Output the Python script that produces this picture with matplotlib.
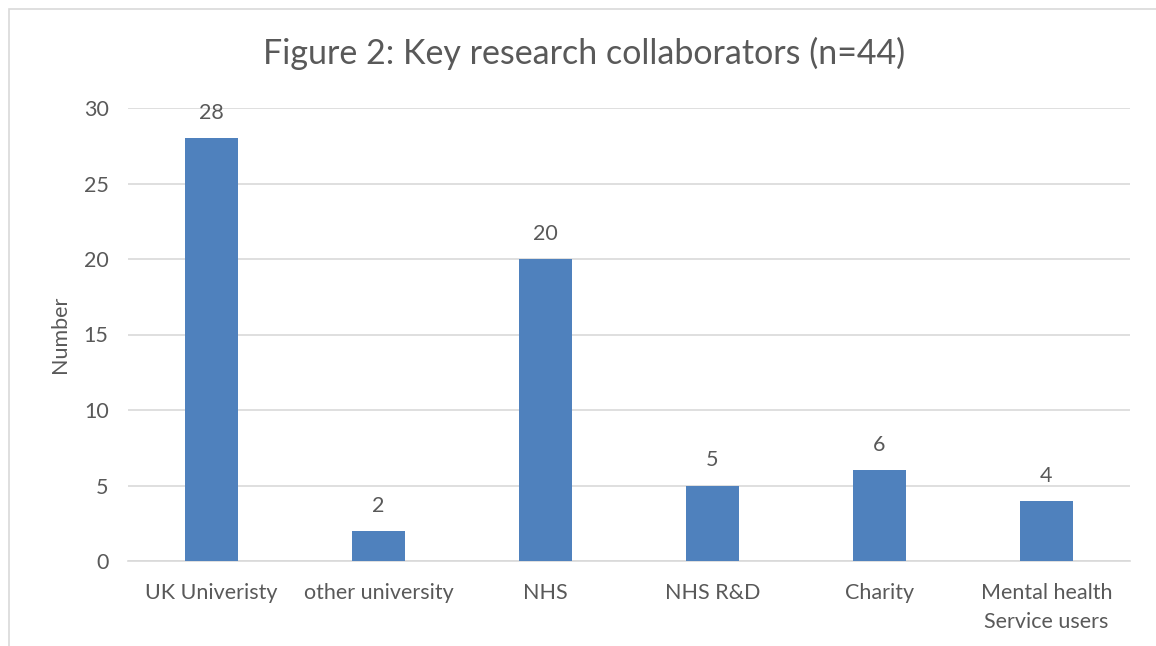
import matplotlib.pyplot as plt
from matplotlib.patches import Rectangle

categories = ["UK Univeristy", "other university", "NHS", "NHS R&D", "Charity",
              "Mental health\nService users"]
counts = [28, 2, 20, 5, 6, 4]
y_ticks = [0, 5, 10, 15, 20, 25, 30]

W, H = 1156, 646
fig = plt.figure(figsize=(W / 100, H / 100), dpi=100)
plt.rcParams['font.family'] = ['Lato', 'DejaVu Sans']
text_col = '#595959'
fs = 15.5

# outer chart frame (only left/top edges visible in the crop)
fig.patches.append(Rectangle((8.5 / W, -0.1), 1.2, 1 - 9.5 / H + 0.1,
                             transform=fig.transFigure, fill=False,
                             edgecolor='#D9D9D9', linewidth=1.2))

ax = fig.add_axes([128 / W, 1 - 561 / H, (1130 - 128) / W, (561 - 108) / H])
x = range(len(categories))
bars = ax.bar(x, counts, width=0.32, color='#4F81BD', zorder=3)
for b, v in zip(bars, counts):
    ax.text(b.get_x() + b.get_width() / 2, v + 1.0, str(v), ha='center',
            va='bottom', fontsize=fs, color=text_col)

ax.set_xlim(-0.5, len(categories) - 0.5)
ax.set_ylim(0, 30)
ax.set_yticks(y_ticks)
ax.set_xticks(list(x))
ax.set_xticklabels(categories, fontsize=fs, color=text_col, linespacing=1.55,
                   va='top')
ax.tick_params(axis='y', labelsize=fs, labelcolor=text_col, length=0, pad=14)
ax.tick_params(axis='x', length=0, pad=16)
ax.grid(axis='y', color='#D9D9D9', linewidth=1.2, zorder=0)
for s in ['top', 'right', 'left']:
    ax.spines[s].set_visible(False)
ax.spines['bottom'].set_color('#D9D9D9')
ax.spines['bottom'].set_linewidth(1.2)
ax.set_ylabel('Number', fontsize=fs, color=text_col, labelpad=10)

fig.text(584 / W, 1 - 53 / H, 'Figure 2: Key research collaborators (n=44)',
         ha='center', va='center', fontsize=24.5, color=text_col)

fig.savefig('out.png', dpi=100)
